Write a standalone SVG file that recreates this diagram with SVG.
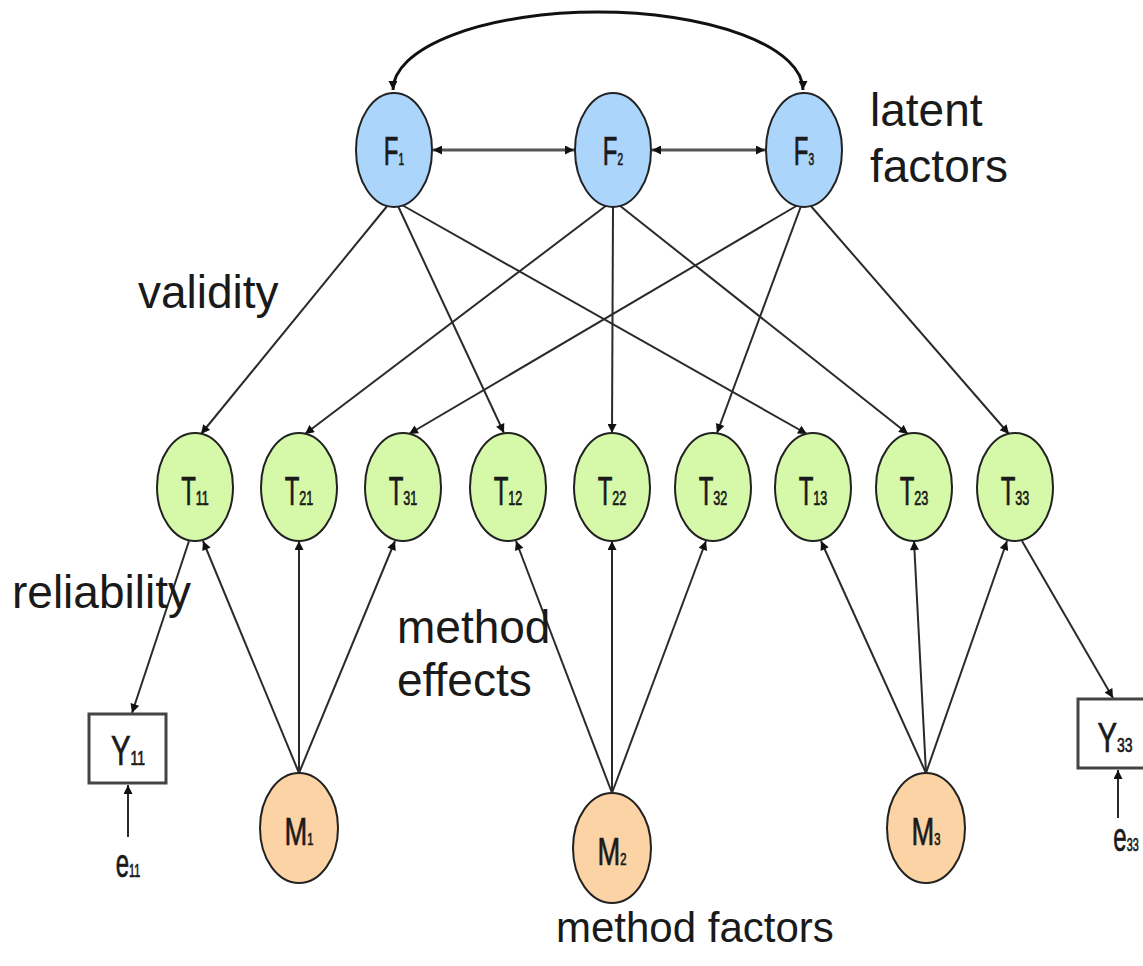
<svg xmlns="http://www.w3.org/2000/svg" width="1143" height="966" viewBox="0 0 1143 966">
<style>
.f{fill:#acd5fb;stroke:#222;stroke-width:2}
.t{fill:#d5f9a9;stroke:#222;stroke-width:2}
.m{fill:#fcd3a4;stroke:#222;stroke-width:2}
.box{fill:#fff;stroke:#444;stroke-width:3}
.lbl{font-family:"Liberation Sans",Arial,sans-serif;fill:#1a1a1a;stroke:#1a1a1a;stroke-width:0.7}
.big{font-family:"Liberation Sans",Arial,sans-serif;font-size:46px;fill:#1a1a1a}
.c{stroke:#2a2a2a;stroke-width:2;fill:none;marker-end:url(#ah)}
.d{stroke:#555;stroke-width:3;fill:none;marker-start:url(#ah);marker-end:url(#ah)}
.arc{stroke:#111;stroke-width:3;fill:none;marker-start:url(#ah);marker-end:url(#ah)}
</style>
<defs>
<marker id="ah" viewBox="0 0 10 10" refX="10" refY="5" markerWidth="11" markerHeight="9" markerUnits="userSpaceOnUse" orient="auto-start-reverse"><path d="M0,0 L10,5 L0,10 z" fill="#111"/></marker>
</defs>
<rect width="1143" height="966" fill="#fff"/>
<g id="connectors">
<path class="arc" d="M393 90 A205 78 0 0 1 803 90"/>
<line class="d" x1="433" y1="150" x2="574" y2="150"/>
<line class="d" x1="652" y1="150" x2="765" y2="150"/>
<line class="c" x1="388" y1="205" x2="201" y2="434"/>
<line class="c" x1="398" y1="206" x2="504" y2="433"/>
<line class="c" x1="402" y1="205" x2="807" y2="434"/>
<line class="c" x1="607" y1="205" x2="305" y2="434"/>
<line class="c" x1="613" y1="207" x2="612" y2="433"/>
<line class="c" x1="619" y1="205" x2="908" y2="434"/>
<line class="c" x1="798" y1="205" x2="409" y2="434"/>
<line class="c" x1="801" y1="206" x2="717" y2="433"/>
<line class="c" x1="810" y1="205" x2="1009" y2="434"/>
<line class="c" x1="299" y1="773" x2="203" y2="541"/>
<line class="c" x1="299" y1="773" x2="299" y2="541"/>
<line class="c" x1="299" y1="773" x2="395" y2="541"/>
<line class="c" x1="612" y1="793" x2="516" y2="541"/>
<line class="c" x1="612" y1="793" x2="612" y2="541"/>
<line class="c" x1="612" y1="793" x2="706" y2="541"/>
<line class="c" x1="926" y1="773" x2="821" y2="541"/>
<line class="c" x1="926" y1="773" x2="914" y2="541"/>
<line class="c" x1="926" y1="773" x2="1007" y2="541"/>
<line class="c" x1="189" y1="541" x2="132" y2="713"/>
<line class="c" x1="1022" y1="541" x2="1113" y2="698"/>
<line class="c" x1="128" y1="837" x2="128" y2="785"/>
<line class="c" x1="1118" y1="818" x2="1118" y2="770"/>
</g>
<g id="F1"><ellipse class="f" cx="394" cy="150" rx="38" ry="57"/><g transform="translate(394,165) scale(0.6,1)"><text class="lbl" text-anchor="middle" font-size="40">F<tspan font-size="17">1</tspan></text></g></g>
<g id="F2"><ellipse class="f" cx="613" cy="150" rx="38" ry="57"/><g transform="translate(613,165) scale(0.6,1)"><text class="lbl" text-anchor="middle" font-size="40">F<tspan font-size="17">2</tspan></text></g></g>
<g id="F3"><ellipse class="f" cx="804" cy="150" rx="38" ry="57"/><g transform="translate(804,165) scale(0.6,1)"><text class="lbl" text-anchor="middle" font-size="40">F<tspan font-size="17">3</tspan></text></g></g>
<g id="T11"><ellipse class="t" cx="195" cy="487" rx="38" ry="54"/><g transform="translate(195,505) scale(0.6,1)"><text class="lbl" text-anchor="middle" font-size="40">T<tspan font-size="21">11</tspan></text></g></g>
<g id="T21"><ellipse class="t" cx="299" cy="487" rx="38" ry="54"/><g transform="translate(299,505) scale(0.6,1)"><text class="lbl" text-anchor="middle" font-size="40">T<tspan font-size="21">21</tspan></text></g></g>
<g id="T31"><ellipse class="t" cx="403" cy="487" rx="38" ry="54"/><g transform="translate(403,505) scale(0.6,1)"><text class="lbl" text-anchor="middle" font-size="40">T<tspan font-size="21">31</tspan></text></g></g>
<g id="T12"><ellipse class="t" cx="508" cy="487" rx="38" ry="54"/><g transform="translate(508,505) scale(0.6,1)"><text class="lbl" text-anchor="middle" font-size="40">T<tspan font-size="21">12</tspan></text></g></g>
<g id="T22"><ellipse class="t" cx="612" cy="487" rx="38" ry="54"/><g transform="translate(612,505) scale(0.6,1)"><text class="lbl" text-anchor="middle" font-size="40">T<tspan font-size="21">22</tspan></text></g></g>
<g id="T32"><ellipse class="t" cx="713" cy="487" rx="38" ry="54"/><g transform="translate(713,505) scale(0.6,1)"><text class="lbl" text-anchor="middle" font-size="40">T<tspan font-size="21">32</tspan></text></g></g>
<g id="T13"><ellipse class="t" cx="813" cy="487" rx="38" ry="54"/><g transform="translate(813,505) scale(0.6,1)"><text class="lbl" text-anchor="middle" font-size="40">T<tspan font-size="21">13</tspan></text></g></g>
<g id="T23"><ellipse class="t" cx="914" cy="487" rx="38" ry="54"/><g transform="translate(914,505) scale(0.6,1)"><text class="lbl" text-anchor="middle" font-size="40">T<tspan font-size="21">23</tspan></text></g></g>
<g id="T33"><ellipse class="t" cx="1015" cy="487" rx="38" ry="54"/><g transform="translate(1015,505) scale(0.6,1)"><text class="lbl" text-anchor="middle" font-size="40">T<tspan font-size="21">33</tspan></text></g></g>
<g id="M1"><ellipse class="m" cx="299" cy="828" rx="39" ry="55"/><g transform="translate(299,845) scale(0.7,1)"><text class="lbl" text-anchor="middle" font-size="39">M<tspan font-size="16">1</tspan></text></g></g>
<g id="M2"><ellipse class="m" cx="612" cy="848" rx="39" ry="55"/><g transform="translate(612,865) scale(0.7,1)"><text class="lbl" text-anchor="middle" font-size="39">M<tspan font-size="16">2</tspan></text></g></g>
<g id="M3"><ellipse class="m" cx="926" cy="828" rx="39" ry="55"/><g transform="translate(926,845) scale(0.7,1)"><text class="lbl" text-anchor="middle" font-size="39">M<tspan font-size="16">3</tspan></text></g></g>
<g id="Y11"><rect class="box" x="89" y="714" width="77" height="69"/><g transform="translate(128,765) scale(0.7,1)"><text class="lbl" text-anchor="middle" font-size="42" fill="#1a2a55">Y<tspan font-size="20">11</tspan></text></g></g>
<g id="Y33"><rect class="box" x="1078" y="699" width="80" height="69"/><g transform="translate(1115,752) scale(0.7,1)"><text class="lbl" text-anchor="middle" font-size="42" fill="#1a2a55">Y<tspan font-size="20">33</tspan></text></g></g>
<g id="e11"><g transform="translate(128,877) scale(0.6,1)"><text class="lbl" text-anchor="middle" font-size="40">e<tspan font-size="18">11</tspan></text></g></g>
<g id="e33"><g transform="translate(1126,851) scale(0.6,1)"><text class="lbl" text-anchor="middle" font-size="40">e<tspan font-size="18">33</tspan></text></g></g>
<g id="labels">
<text class="big" x="870" y="126">latent</text>
<text class="big" x="870" y="182">factors</text>
<text class="big" x="138" y="308">validity</text>
<text class="big" x="12" y="608">reliability</text>
<text class="big" x="397" y="643">method</text>
<text class="big" x="397" y="696">effects</text>
<text class="big" x="556" y="942" style="font-size:42px">method factors</text>
</g>
</svg>
